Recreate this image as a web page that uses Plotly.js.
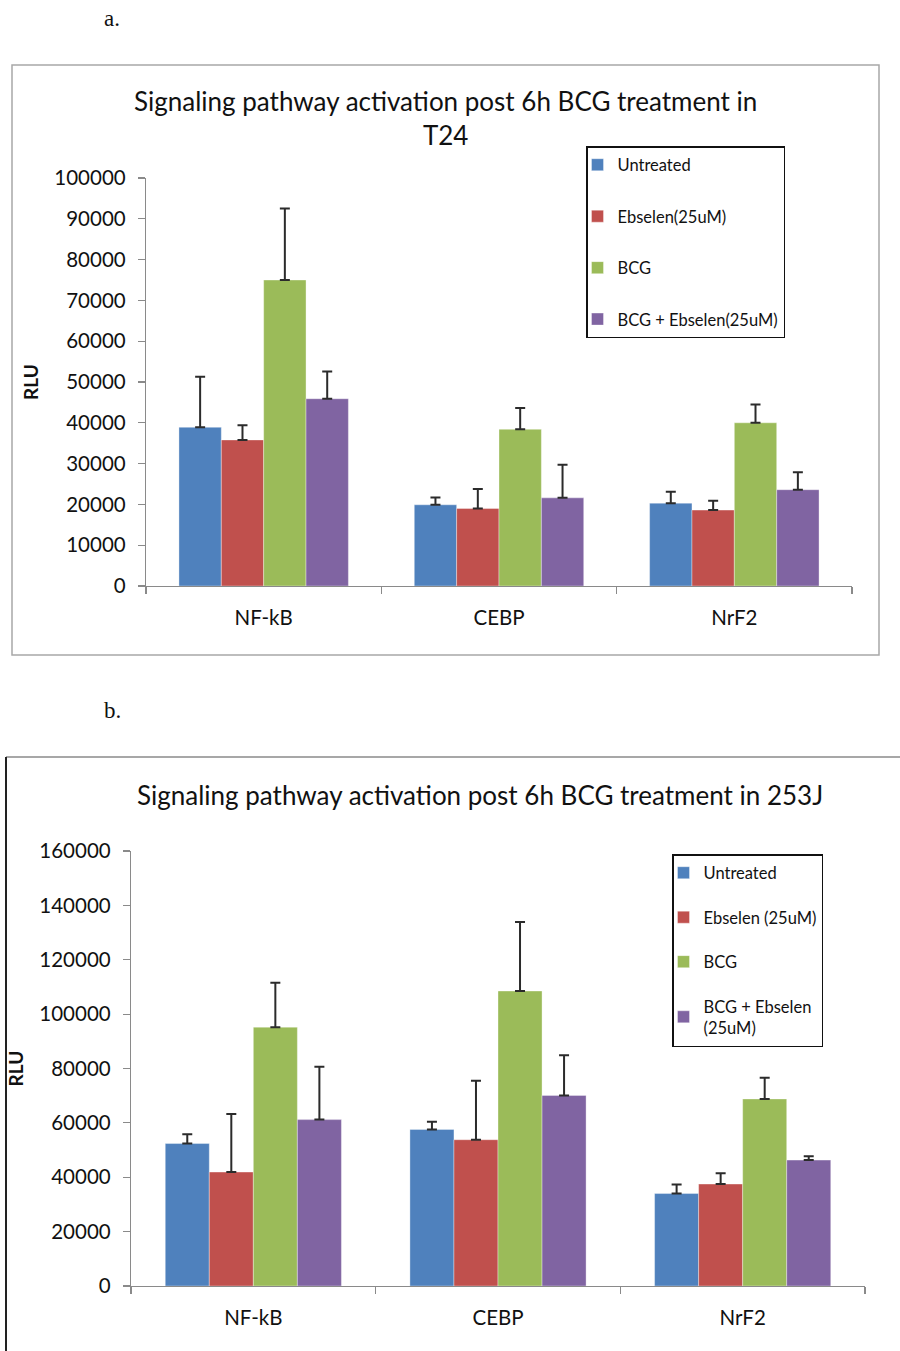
<!DOCTYPE html>
<html>
<head>
<meta charset="utf-8">
<script src="https://cdn.plot.ly/plotly-3.0.1.min.js"></script>
<style>html,body{margin:0;padding:0;background:#fff;}#chart{width:900px;height:1351px;}</style>
</head>
<body>
<div id="chart"></div>
<script>
// ---- data ----
const categories = ["NF-kB", "CEBP", "NrF2"];

// Panel a (T24)
const seriesNamesA = ["Untreated", "Ebselen(25uM)", "BCG", "BCG + Ebselen(25uM)"];
const untreatedA = [38900, 19900, 20300];
const ebselenA = [35800, 19000, 18600];
const bcgA = [75000, 38400, 40000];
const bcgEbselenA = [45900, 21600, 23600];
const untreatedErrA = [12400, 1800, 2800];
const ebselenErrA = [3600, 4800, 2300];
const bcgErrA = [17500, 5200, 4500];
const bcgEbselenErrA = [6700, 8100, 4300];

// Panel b (253J)
const seriesNamesB = ["Untreated", "Ebselen (25uM)", "BCG", "BCG + Ebselen<br>(25uM)"];
const untreatedB = [52400, 57600, 34000];
const ebselenB = [41900, 53800, 37500];
const bcgB = [95200, 108500, 68800];
const bcgEbselenB = [61200, 70100, 46300];
const untreatedErrB = [3400, 2800, 3300];
const ebselenErrB = [21400, 21700, 4000];
const bcgErrB = [16300, 25400, 7800];
const bcgEbselenErrB = [19400, 14800, 1400];

const yTicksA = [0, 10000, 20000, 30000, 40000, 50000, 60000, 70000, 80000, 90000, 100000];
const yTicksB = [0, 20000, 40000, 60000, 80000, 100000, 120000, 140000, 160000];

// ---- styling ----
const colors = ["#4F81BD", "#C0504D", "#9BBB59", "#8064A2"];
const FONT = "Lato, 'Open Sans', sans-serif";
const W = 900, H = 1351;
const px = v => v / W;
const py = v => 1 - v / H;

function mkTraces(names, vals, errs, xa, ya, legend) {
  return names.map((n, i) => ({
    type: "bar",
    name: n,
    x: categories,
    y: vals[i],
    xaxis: xa, yaxis: ya,
    legend: legend,
    legendgroup: legend + i,
    marker: {color: colors[i], line: {color: "rgba(255,255,255,0.6)", width: 0.6}},
    error_y: {type: "data", array: errs[i], symmetric: false, arrayminus: errs[i].map(() => 0),
              visible: true, color: "#2b2b2b", thickness: 2, width: 5},
    hoverinfo: "x+y+name"
  }));
}

const traces = [
  ...mkTraces(seriesNamesA, [untreatedA, ebselenA, bcgA, bcgEbselenA],
              [untreatedErrA, ebselenErrA, bcgErrA, bcgEbselenErrA], "x", "y", "legend"),
  ...mkTraces(seriesNamesB, [untreatedB, ebselenB, bcgB, bcgEbselenB],
              [untreatedErrB, ebselenErrB, bcgErrB, bcgEbselenErrB], "x2", "y2", "legend2")
];

const axisCommon = {
  showline: true, linecolor: "#8a8a8a", linewidth: 1.2,
  showgrid: false, zeroline: false,
  ticks: "outside", tickcolor: "#8a8a8a", tickwidth: 1.2,
  tickfont: {family: FONT, size: 20.5, color: "#111"}
};

const layout = {
  width: W, height: H,
  margin: {l: 0, r: 0, t: 0, b: 0},
  paper_bgcolor: "#fff", plot_bgcolor: "#fff",
  barmode: "group", bargap: 0.28, bargroupgap: 0,
  showlegend: true,
  font: {family: FONT, color: "#111"},
  xaxis: Object.assign({}, axisCommon, {
    domain: [px(146), px(852)], anchor: "y", type: "category",
    tickson: "boundaries", ticklen: 7, ticklabelstandoff: 13
  }),
  yaxis: Object.assign({}, axisCommon, {
    domain: [py(586), py(178)], anchor: "x",
    range: [0, 100000], tickvals: yTicksA, ticktext: yTicksA.map(String),
    ticklen: 7, ticklabelstandoff: 8,
    title: {text: "<b>RLU</b>", font: {family: FONT, size: 19, color: "#111"}, standoff: 10}
  }),
  xaxis2: Object.assign({}, axisCommon, {
    domain: [px(131), px(865)], anchor: "y2", type: "category",
    tickson: "boundaries", ticklen: 7, ticklabelstandoff: 13
  }),
  yaxis2: Object.assign({}, axisCommon, {
    domain: [py(1286), py(851)], anchor: "x2",
    range: [0, 160000], tickvals: yTicksB, ticktext: yTicksB.map(String),
    ticklen: 7, ticklabelstandoff: 8,
    title: {text: "<b>RLU</b>", font: {family: FONT, size: 19, color: "#111"}, standoff: 10}
  }),
  legend: {
    x: px(586), y: py(146), xanchor: "left", yanchor: "top",
    bordercolor: "#111", borderwidth: 1.5, bgcolor: "#fff",
    font: {family: FONT, size: 16.5, color: "#111"},
    tracegroupgap: 27, indentation: -10, traceorder: "grouped"
  },
  legend2: {
    x: px(672), y: py(854), xanchor: "left", yanchor: "top",
    bordercolor: "#111", borderwidth: 1.5, bgcolor: "#fff",
    font: {family: FONT, size: 16.5, color: "#111"},
    tracegroupgap: 20, indentation: -10, traceorder: "grouped"
  },
  annotations: [
    {text: "Signaling pathway activation post 6h BCG treatment in<br>T24",
     xref: "paper", yref: "paper", x: px(445), y: py(118), xanchor: "center", yanchor: "middle",
     showarrow: false, font: {family: FONT, size: 26, color: "#111"}},
    {text: "Signaling pathway activation post 6h BCG treatment in 253J",
     xref: "paper", yref: "paper", x: px(480), y: py(795), xanchor: "center", yanchor: "middle",
     showarrow: false, font: {family: FONT, size: 26, color: "#111"}},
    {text: "a.", xref: "paper", yref: "paper", x: px(112), y: py(18), xanchor: "center", yanchor: "middle",
     showarrow: false, font: {family: "'Liberation Serif', 'DejaVu Serif', serif", size: 23, color: "#111"}},
    {text: "b.", xref: "paper", yref: "paper", x: px(112), y: py(710), xanchor: "center", yanchor: "middle",
     showarrow: false, font: {family: "'Liberation Serif', 'DejaVu Serif', serif", size: 23, color: "#111"}}
  ],
  shapes: [
    {type: "rect", xref: "paper", yref: "paper", x0: px(12), x1: px(879), y0: py(655), y1: py(65),
     line: {color: "#a8a8a8", width: 1.5}, layer: "below"},
    {type: "line", xref: "paper", yref: "paper", x0: px(6), x1: px(905), y0: py(757), y1: py(757),
     line: {color: "#8a8a8a", width: 1.5}},
    {type: "line", xref: "paper", yref: "paper", x0: px(6), x1: px(6), y0: py(757), y1: py(1360),
     line: {color: "#222", width: 2}}
  ]
};

Plotly.newPlot("chart", traces, layout, {staticPlot: true, displayModeBar: false});
</script>
</body>
</html>
